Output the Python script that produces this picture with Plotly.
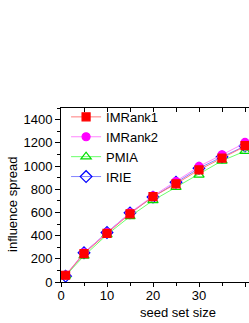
import plotly.graph_objects as go

seed_sizes = [1, 5, 10, 15, 20, 25, 30, 35, 40, 45]
imrank1 = [58, 245, 419, 588, 736, 846, 967, 1068, 1175, 1270]
imrank2 = [60, 252, 425, 597, 742, 866, 996, 1097, 1203, 1300]
pmia = [55, 225, 408, 565, 703, 817, 924, 1045, 1128, 1220]
irie = [50, 252, 427, 596, 732, 860, 981, 1078, 1172, 1268]

FONT = "Liberation Sans, Arial, sans-serif"

series = [
    ("IRIE", irie, "#0000FF", "rgba(100,100,255,0.8)", "diamond-open", 9, 4),
    ("PMIA", pmia, "#00DD00", "rgba(90,255,90,0.9)", "triangle-up-open", 9, 3),
    ("IMRank2", imrank2, "#FF00FF", "rgba(255,120,255,0.9)", "circle", 8, 2),
    ("IMRank1", imrank1, "#FF0000", "rgba(255,110,110,0.9)", "square", 8, 1),
]

fig = go.Figure()
for name, vals, mc, lc, sym, size, rank in series:
    fig.add_trace(go.Scatter(
        x=seed_sizes, y=vals, name=name, mode="lines+markers",
        line=dict(color=lc, width=1),
        marker=dict(symbol=sym, size=size, color=mc,
                    line=dict(color=mc, width=1.2)),
        legendrank=rank,
    ))

fig.update_layout(
    width=249, height=323,
    margin=dict(l=61, r=0, t=108, b=41, autoexpand=False),
    paper_bgcolor="white", plot_bgcolor="white",
    font=dict(family=FONT, size=13, color="black"),
    showlegend=True,
    legend=dict(x=0.027, y=1.035, xanchor="left", yanchor="top",
                bgcolor="rgba(0,0,0,0)", borderwidth=0,
                font=dict(family=FONT, size=13), tracegroupgap=0),
    xaxis=dict(range=[0, 40.87], showgrid=False, zeroline=False,
               automargin=False,
               showline=True, linecolor="black", linewidth=1,
               ticks="outside", ticklen=4, tickcolor="black",
               ticklabelstandoff=-3,
               tick0=0, dtick=10, tickfont=dict(size=13),
               minor=dict(ticks="outside", ticklen=3, dtick=5, tick0=0,
                          tickcolor="black", showgrid=False)),
    xaxis2=dict(range=[0, 40.87], overlaying="x", side="top",
                automargin=False,
                showgrid=False, zeroline=False, showline=True,
                linecolor="black", linewidth=1, ticks="inside", ticklen=4,
                tickcolor="black", tick0=0, dtick=10, showticklabels=False,
                minor=dict(ticks="inside", ticklen=4, dtick=5, tick0=0,
                           tickcolor="black", showgrid=False)),
    yaxis=dict(range=[0, 1500], showgrid=False, zeroline=False,
               automargin=False,
               showline=True, linecolor="black", linewidth=1,
               ticks="outside", ticklen=5, tickcolor="black",
               tick0=0, dtick=200, tickfont=dict(size=13),
               minor=dict(ticks="outside", ticklen=3, dtick=100, tick0=0,
                          tickcolor="black", showgrid=False)),
    annotations=[
        dict(text="seed set size", x=0.622, y=-0.174, xref="paper",
             yref="paper", showarrow=False, xanchor="center",
             yanchor="middle", font=dict(size=13)),
        dict(text="influence spread", x=-0.255, y=0.443, xref="paper",
             yref="paper", showarrow=False, xanchor="center",
             yanchor="middle", textangle=-90, font=dict(size=13)),
    ],
)
# invisible trace to activate the top axis
fig.add_trace(go.Scatter(x=[0], y=[0], xaxis="x2", mode="markers",
                         marker=dict(opacity=0), showlegend=False,
                         hoverinfo="skip"))

fig.write_html("out.html",
               config={"displayModeBar": False},
               post_script="document.body.style.margin='0';")
